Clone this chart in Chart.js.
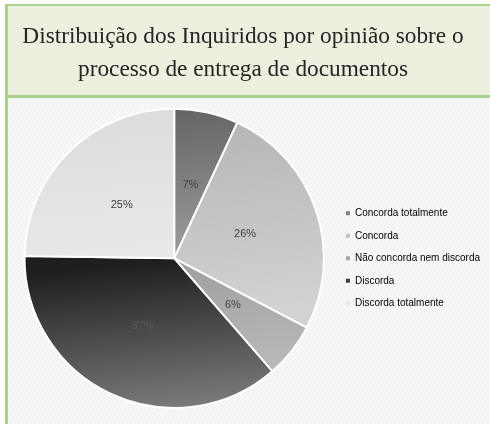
<!DOCTYPE html>
<html>
<head>
<meta charset="utf-8">
<script src="https://cdn.jsdelivr.net/npm/chart.js@4/dist/chart.umd.min.js"></script>
<style>
  html, body { margin: 0; padding: 0; background: #ffffff; }
  #wrap { width: 490px; height: 424px; }
</style>
</head>
<body>
<div id="wrap"><canvas id="c" width="490" height="424"></canvas></div>
<script>
const titleLines = ['Distribuição dos Inquiridos por opinião sobre o', 'processo de entrega de documentos'];
const categories = ['Concorda totalmente', 'Concorda', 'Não concorda nem discorda', 'Discorda', 'Discorda totalmente'];
const percentValues = [7, 26, 6, 37, 25];

// gradient stops per slice: [stop, color] across the pie's vertical extent
const sliceGradients = [
  [[0, '#636363'], [0.5, '#9c9c9c'], [1, '#9c9c9c']],
  [[0, '#b3b3b3'], [0.7, '#d2d2d2'], [1, '#d8d8d8']],
  [[0, '#9a9a9a'], [0.5, '#9e9e9e'], [0.85, '#b7b7b7'], [1, '#b9b9b9']],
  [[0, '#1e1e1e'], [0.5, '#1e1e1e'], [1, '#7c7c7c']],
  [[0, '#dcdcdc'], [0.5, '#e9e9e9'], [1, '#e9e9e9']]
];
const legendColors = ['#7f7f7f', '#c4c4c4', '#a6a6a6', '#404040', '#e6e6e6'];

function makeGradient(ctx, area, stops) {
  const g = ctx.createLinearGradient(area.left + area.width * 0.45, area.top, area.left + area.width * 0.55, area.bottom);
  stops.forEach(s => g.addColorStop(s[0], s[1]));
  return g;
}

function makePattern(ctx) {
  const p = document.createElement('canvas');
  p.width = 4; p.height = 4;
  const pc = p.getContext('2d');
  pc.fillStyle = '#f3f3f3';
  pc.fillRect(0, 0, 4, 4);
  pc.fillStyle = '#fbfbfb';
  pc.fillRect(0, 3, 1, 1); pc.fillRect(1, 2, 1, 1); pc.fillRect(2, 1, 1, 1); pc.fillRect(3, 0, 1, 1);
  return ctx.createPattern(p, 'repeat');
}

const backgroundPlugin = {
  id: 'bgBoxes',
  afterLayout(chart) {
    // the title box spans the whole green header, not only the padded layout area
    const tb = chart.titleBlock;
    if (tb) { tb.left = 2; tb.right = 484; tb.width = 482; }
  },
  beforeDraw(chart) {
    const ctx = chart.ctx;
    ctx.save();
    ctx.fillStyle = '#ffffff';
    ctx.fillRect(0, 0, chart.width, chart.height);
    // plot area hatched background
    ctx.fillStyle = makePattern(ctx);
    ctx.fillRect(8, 97, chart.width - 8, chart.height - 97);
    // title box
    ctx.fillStyle = '#ebf1de';
    ctx.fillRect(6, 5, chart.width - 6, 91);
    ctx.fillStyle = '#a9d18e';
    ctx.fillRect(5, 4, chart.width - 5, 2);
    ctx.fillRect(5, 95, chart.width - 5, 3);
    ctx.fillRect(5, 4, 3, chart.height - 4);
    ctx.restore();
  }
};

const labelPlugin = {
  id: 'sliceLabels',
  afterDatasetsDraw(chart) {
    const ctx = chart.ctx;
    const meta = chart.getDatasetMeta(0);
    ctx.save();
    ctx.font = '11px "Liberation Sans", Arial, sans-serif';
    ctx.textAlign = 'center';
    ctx.textBaseline = 'middle';
    meta.data.forEach((arc, i) => {
      const p = arc.getCenterPoint();
      ctx.fillStyle = i === 3 ? '#5a5a5a' : '#404040';
      ctx.fillText(percentValues[i] + '%', p.x, p.y);
    });
    ctx.restore();
  }
};

new Chart(document.getElementById('c'), {
  type: 'pie',
  data: {
    labels: categories,
    datasets: [{
      data: percentValues,
      backgroundColor: (context) => {
        const area = context.chart.chartArea;
        if (!area) return legendColors[context.dataIndex];
        return makeGradient(context.chart.ctx, area, sliceGradients[context.dataIndex]);
      },
      borderColor: '#ffffff',
      borderWidth: 2
    }]
  },
  options: {
    responsive: false,
    animation: false,
    layout: { padding: { left: 15, right: 0, top: 0, bottom: 15 } },
    plugins: {
      title: {
        display: true,
        text: titleLines,
        color: '#262626',
        font: { family: '"Liberation Serif", "DejaVu Serif", serif', size: 23.3, weight: 'normal', lineHeight: 1.43 },
        padding: { top: 20, bottom: 21 }
      },
      legend: {
        position: 'right',
        fullSize: false,
        labels: {
          boxWidth: 4,
          boxHeight: 4,
          padding: 12.5,
          color: '#595959',
          font: { family: '"Liberation Sans", Arial, sans-serif', size: 10 },
          generateLabels: (chart) => categories.map((c, i) => ({
            text: c, fillStyle: legendColors[i], strokeStyle: legendColors[i], lineWidth: 0, index: i, hidden: false
          }))
        }
      },
      tooltip: { enabled: false }
    }
  },
  plugins: [backgroundPlugin, labelPlugin]
});
</script>
</body>
</html>
